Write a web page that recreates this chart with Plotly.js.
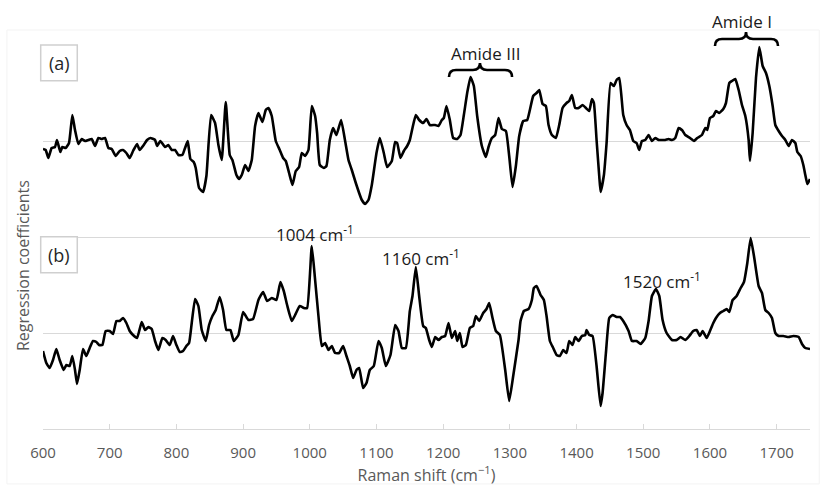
<!DOCTYPE html>
<html>
<head>
<meta charset="utf-8">
<script src="https://cdn.plot.ly/plotly-3.0.1.min.js"></script>
<style>html,body{margin:0;padding:0;background:#fff;}#chart{width:823px;height:489px;}</style>
</head>
<body>
<div id="chart"></div>
<script>
// Spectrum (a) – regression coefficients (offset upper trace)
const ramanA = [600,604,608,613,618,621,626,629,634,639,644,648,653,658,663,668,673,678,683,688,693,698,703,709,715,720,725,730,735,741,745,751,756,761,768,771,776,783,788,793,798,803,809,813,817,821,826,829,834,840,845,852,858,863,868,874,880,884,890,894,
898,903,908,913,918,923,929,934,938,943,949,955,960,964,969,974,979,984,988,993,998,1003,1008,1011,1015,1021,1025,1030,1035,1040,1047,1053,1058,1063,1069,1074,1078,1083,1088,1093,1100,1105,1111,1116,1123,1128,1131,1136,1141,1146,1150,1154,1159,1164,1170,1175,1180,
1188,1193,1198,1201,1205,1210,1215,1221,1226,1231,1236,1241,1246,1251,1258,1264,1268,1273,1278,1283,1288,1294,1299,1304,1309,1314,1320,1326,1330,1335,1340,1344,1349,1354,1358,1363,1369,1374,1379,1385,1389,1393,1398,1403,1409,1414,1419,1423,1426,1430,1434,1436,1441,1445,1451,1456,1460,1464,
1470,1475,1480,1485,1490,1494,1498,1503,1508,1513,1518,1523,1528,1533,1538,1543,1548,1553,1558,1563,1570,1576,1581,1588,1593,1596,1600,1605,1609,1614,1620,1624,1629,1633,1638,1643,1648,1653,1658,1660,1664,1669,1674,1679,1684,1689,1694,1698,1703,1708,1713,1718,1723,1728,1731,1736,1740,1743,1746,1750];
const coefA = [280,279,271,281,282,289,277,282,281,286,314,299,285,290,288,289,290,283,291,290,291,281,280,273,278,279,276,271,278,285,279,284,289,291,289,283,288,282,284,279,279,274,274,281,288,270,267,261,241,237,253,314,306,284,269,327,274,269,254,250,
254,264,258,269,303,316,307,319,321,313,288,279,271,268,256,244,258,262,276,273,279,323,313,296,264,261,263,289,301,294,309,288,269,259,246,236,229,225,229,244,276,291,276,262,268,287,286,271,278,283,289,301,314,309,306,310,304,
304,303,309,311,323,309,291,290,294,314,336,352,343,313,283,272,282,291,294,311,300,298,273,242,263,293,308,309,319,333,336,339,325,323,304,294,291,304,321,326,328,334,321,321,324,321,318,330,326,289,253,237,254,286,346,343,349,351,
314,304,299,288,286,279,288,289,294,288,291,289,289,289,290,289,291,301,299,294,291,288,291,294,301,299,311,313,318,316,320,326,346,348,350,339,324,313,289,268,296,351,382,363,356,343,323,304,298,293,289,283,289,286,277,273,264,254,245,250];

// Spectrum (b) – regression coefficients (offset lower trace)
const ramanB = [600,605,610,615,620,625,631,635,640,644,648,651,655,660,665,670,675,680,684,689,694,700,705,710,715,720,725,730,735,741,748,753,758,763,768,773,779,784,790,795,800,805,810,815,819,823,828,833,838,844,849,854,859,865,870,875,881,886,893,
900,908,915,923,930,936,943,950,956,961,966,973,978,985,991,996,1003,1008,1013,1018,1023,1028,1033,1038,1044,1050,1055,1060,1065,1070,1074,1080,1085,1090,1096,1103,1108,1114,1121,1128,1133,1138,1144,1150,1154,1159,1164,1170,
1174,1179,1183,1188,1193,1198,1203,1208,1213,1218,1221,1225,1229,1234,1240,1245,1249,1254,1260,1265,1269,1274,1279,1285,1293,1299,1305,1313,1316,1321,1328,1333,1336,1340,1346,1351,1355,1360,1365,1370,1375,1380,1385,1389,1394,1398,1403,1408,1413,1415,1419,1424,1430,1436,1439,1444,1449,1454,1460,1465,
1470,1478,1483,1490,1496,1503,1508,1513,1519,1524,1529,1535,1543,1550,1556,1563,1569,1575,1580,1585,1589,1595,1600,1605,1609,1615,1620,1625,1629,1634,1640,1646,1651,1656,1661,1666,1673,1678,1683,1688,1693,1698,1703,1710,1718,1725,1733,1738,1743,1750];
const coefB = [78,66,61,69,80,69,59,64,63,73,59,45,59,80,73,81,88,87,84,84,98,98,95,108,108,111,106,98,94,91,107,99,102,100,88,79,91,89,84,93,84,77,78,83,86,106,130,123,99,88,104,113,119,132,119,99,99,88,94,
117,109,110,129,137,128,131,129,147,138,124,108,114,123,121,121,183,149,113,83,86,79,83,76,76,83,73,63,51,59,61,41,46,59,63,88,81,63,74,104,98,81,81,118,133,162,133,103,
101,89,82,92,89,92,93,106,91,98,88,96,82,84,101,103,113,108,116,120,126,111,98,94,59,28,53,89,108,118,120,129,141,143,134,129,113,88,81,74,73,79,76,88,84,92,88,93,94,99,94,93,63,23,36,76,111,114,112,112,
108,98,88,88,85,91,108,133,140,133,109,96,89,89,92,89,93,98,99,93,98,91,98,106,111,116,118,120,117,129,133,141,147,166,191,173,143,136,119,116,111,96,93,93,92,93,92,85,81,80];

const xTicks = [600,700,800,900,1000,1100,1200,1300,1400,1500,1600,1700];

const FONT = '"Open Sans", "Noto Sans", sans-serif';
const lineStyle = {color: '#000000', width: 2.6, shape: 'spline', smoothing: 0.4};

const traces = [
  {x: ramanA, y: coefA, type: 'scatter', mode: 'lines', line: lineStyle, hoverinfo: 'skip'},
  {x: ramanB, y: coefB, type: 'scatter', mode: 'lines', line: lineStyle, hoverinfo: 'skip'}
];

function label(text, xref, yref, x, y, size, color, extra){
  return Object.assign({text: text, xref: xref, yref: yref, x: x, y: y, showarrow: false,
    xanchor: 'center', yanchor: 'middle',
    font: {family: FONT, size: size, color: color}}, extra || {});
}

const layout = {
  width: 823, height: 489,
  margin: {l: 43, r: 13, t: 45, b: 60},
  paper_bgcolor: '#ffffff', plot_bgcolor: '#ffffff',
  showlegend: false,
  font: {family: FONT, color: '#595959', size: 15},
  xaxis: {
    range: [600, 1750], tickvals: xTicks, ticktext: xTicks.map(String),
    showgrid: false, zeroline: false,
    showline: true, linecolor: '#d9d9d9', linewidth: 1,
    ticks: 'inside', ticklen: 5, tickcolor: '#d9d9d9', tickwidth: 1,
    tickfont: {family: FONT, size: 15, color: '#595959'},
    ticklabelstandoff: 10,
    title: {text: 'Raman shift (cm<sup>\u22121</sup>)', font: {family: FONT, size: 16, color: '#595959'}, standoff: 8},
    automargin: false, fixedrange: true
  },
  yaxis: {
    range: [0, 384], dtick: 96, tick0: 0,
    showgrid: true, gridcolor: '#d9d9d9', gridwidth: 1,
    zeroline: false, showline: false, showticklabels: false, ticks: '',
    automargin: false, fixedrange: true
  },
  shapes: [
    {type: 'rect', xref: 'paper', yref: 'paper', x0: -0.047, x1: 1.012, y0: -0.143, y1: 1.039,
     line: {color: '#f3f3f3', width: 1}, layer: 'below'},
    {type: 'rect', xref: 'paper', yref: 'paper', x0: -0.003, x1: 0.0447, y0: 0.907, y1: 1.0,
     line: {color: '#cfcfcf', width: 1.5}, fillcolor: '#ffffff'},
    {type: 'rect', xref: 'paper', yref: 'paper', x0: -0.003, x1: 0.0447, y0: 0.407, y1: 0.5008,
     line: {color: '#cfcfcf', width: 1.5}, fillcolor: '#ffffff'},
    {type: 'path', xref: 'paper', yref: 'paper',
     path: 'M 0.5293,0.9167 Q 0.5293,0.9349 0.5385,0.9349 L 0.5606,0.9349 Q 0.5697,0.9349 0.5697,0.9531 Q 0.5697,0.9349 0.5789,0.9349 L 0.6023,0.9349 Q 0.6115,0.9349 0.6115,0.9167',
     line: {color: '#000000', width: 2.6}},
    {type: 'path', xref: 'paper', yref: 'paper',
     path: 'M 0.8761,0.9974 Q 0.8761,1.0156 0.8853,1.0156 L 0.9074,1.0156 Q 0.9166,1.0156 0.9166,1.0339 Q 0.9166,1.0156 0.9257,1.0156 L 0.9492,1.0156 Q 0.9583,1.0156 0.9583,0.9974',
     line: {color: '#000000', width: 2.6}}
  ],
  annotations: [
    label('(a)', 'paper', 'paper', 0.0209, 0.9535, 18, '#262626'),
    label('(b)', 'paper', 'paper', 0.0209, 0.4539, 18, '#262626'),
    label('Amide III', 'paper', 'paper', 0.5763, 0.979, 17, '#1a1a1a'),
    label('Amide I', 'paper', 'paper', 0.9113, 1.06, 17, '#1a1a1a'),
    label('1004 cm<sup>-1</sup>', 'x', 'y', 1008, 196, 17, '#1a1a1a'),
    label('1160 cm<sup>-1</sup>', 'x', 'y', 1167, 172, 17, '#1a1a1a'),
    label('1520 cm<sup>-1</sup>', 'x', 'y', 1528, 149, 17, '#1a1a1a'),
    label('Regression coefficients', 'paper', 'paper', -0.026, 0.4245, 16, '#595959', {textangle: -90})
  ]
};

Plotly.newPlot('chart', traces, layout, {staticPlot: true, displayModeBar: false});
</script>
</body>
</html>
